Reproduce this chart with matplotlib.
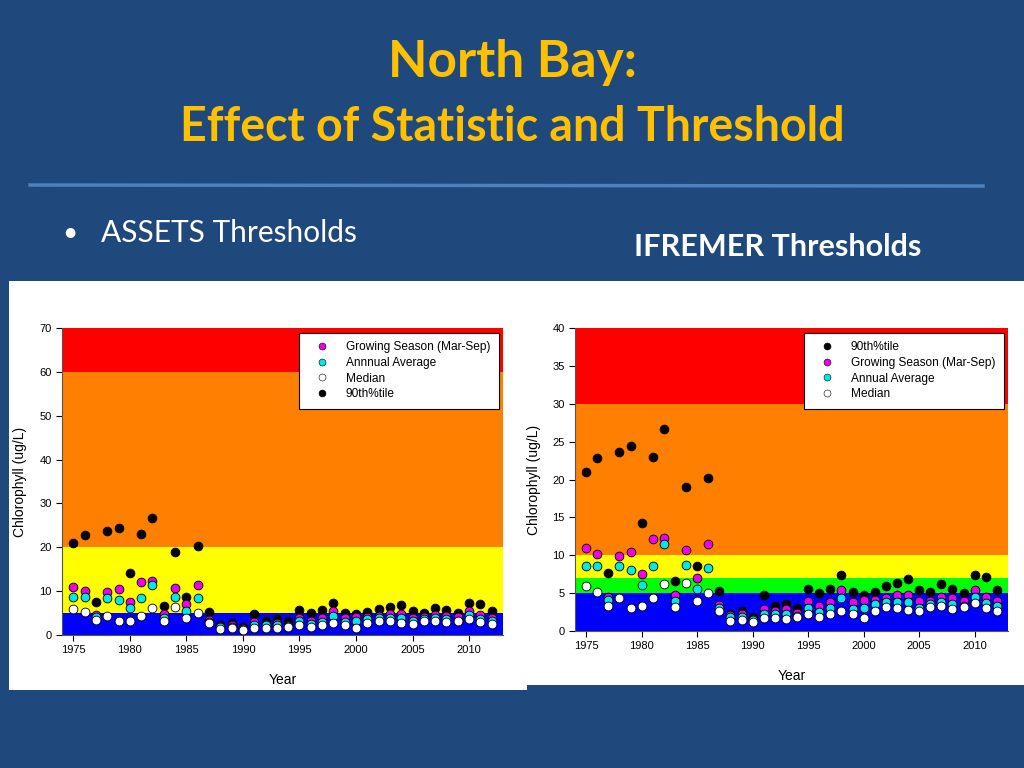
import matplotlib
matplotlib.use("Agg")
import matplotlib.pyplot as plt
from matplotlib.patches import Rectangle
from matplotlib.lines import Line2D

# data (same series shown in both panels)
years = list(range(1975, 2013))
p90 = [21.0, 22.9, 7.6, 23.6, 24.4, 14.2, 23.0, 26.7, 6.6, 19.0, 8.6, 20.2, 5.3,
       2.2, 2.7, 1.9, 4.7, 3.3, 3.6, 3.1, 5.6, 5.0, 5.6, 7.4, 5.1, 4.75, 5.2,
       6.0, 6.3, 6.8, 5.4, 5.1, 6.2, 5.6, 5.0, 7.4, 7.1, 5.45]
grow = [10.9, 10.1, 4.45, 9.9, 10.4, 7.5, 12.1, 12.3, 4.8, 10.7, 7.0, 11.5, 3.4,
        2.1, 2.2, 1.6, 2.9, 2.6, 2.85, 2.35, 3.9, 3.3, 3.8, 5.45, 3.8, 4.05, 4.05,
        4.3, 4.7, 4.7, 3.96, 4.0, 4.5, 4.3, 4.0, 5.4, 4.5, 3.9]
annual = [8.6, 8.6, 4.1, 8.55, 8.0, 6.1, 8.55, 11.5, 3.9, 8.75, 5.55, 8.35, 3.0,
          1.8, 1.9, 1.4, 2.3, 2.2, 2.2, 1.95, 3.1, 2.55, 3.0, 4.35, 2.95, 3.1, 3.55,
          3.8, 3.8, 3.8, 3.1, 3.6, 3.8, 3.6, 3.3, 4.45, 3.75, 3.3]
median = [6.0, 5.2, 3.35, 4.4, 3.1, 3.3, 4.4, 6.15, 3.2, 6.4, 3.9, 5.05, 2.7,
          1.3, 1.5, 1.15, 1.7, 1.7, 1.65, 1.8, 2.3, 1.8, 2.3, 2.7, 2.2, 1.7, 2.7,
          3.2, 3.1, 2.8, 2.6, 3.2, 3.3, 2.9, 3.2, 3.7, 3.0, 2.6]

# threshold bands (lower, upper, colour)
assets_bands = [(0, 5, "#0000FF"), (5, 20, "#FFFF00"), (20, 60, "#FF8000"), (60, 70, "#FF0000")]
ifremer_bands = [(0, 5, "#0000FF"), (5, 7, "#00FF00"), (7, 10, "#FFFF00"),
                 (10, 30, "#FF8000"), (30, 40, "#FF0000")]

BG = "#1F497D"
MAG = "#EE00EE"
CYAN = "#00E8E8"
W, H = 1024, 768


def fig_rect(x, y, w, h):
    # pixel box (top-left origin) -> figure fraction
    return [x / W, 1 - (y + h) / H, w / W, h / H]


fig = plt.figure(figsize=(10.24, 7.68), dpi=100, facecolor=BG)
plt.rcParams["font.family"] = ["Liberation Sans", "DejaVu Sans"]

# titles
fig.text(0.5, 1 - 63 / H, "North Bay:", ha="center", va="center", color="#FFC000",
         fontsize=37, fontweight="bold", family="Lato")
fig.text(0.5, 1 - 127 / H, "Effect of Statistic and Threshold", ha="center", va="center",
         color="#FFC000", fontsize=33.5, fontweight="bold", family="Lato")
fig.add_artist(Line2D([30 / W, 983 / W], [1 - 185 / H, 1 - 186 / H], color="#4F81BD", lw=2.5))
fig.text(62 / W, 1 - 233 / H, "\u2022", ha="left", va="center", color="white", fontsize=19, family="Lato")
fig.text(101 / W, 1 - 233 / H, "ASSETS Thresholds", ha="left", va="center", color="white",
         fontsize=21.5, family="Lato")
fig.text(778 / W, 1 - 247 / H, "IFREMER Thresholds", ha="center", va="center", color="white",
         fontsize=22, fontweight="bold", family="Lato")

# white panels behind the charts
fig.add_artist(Rectangle((9 / W, 1 - 690 / H), 518 / W, 409 / H, transform=fig.transFigure,
                         facecolor="white", edgecolor="none", zorder=0))
fig.add_artist(Rectangle((524 / W, 1 - 685 / H), 500 / W, 404 / H, transform=fig.transFigure,
                         facecolor="white", edgecolor="none", zorder=0))


def draw_panel(ax, bands, ymax, ystep, order, labels, ylpad):
    for lo, hi, c in bands:
        ax.axhspan(lo, hi, color=c, lw=0, zorder=0)
    series = {"p90": (p90, "black"), "grow": (grow, MAG), "annual": (annual, CYAN),
              "median": (median, "white")}
    for key in ["p90", "grow", "annual", "median"]:
        vals, c = series[key]
        ax.scatter(years, vals, s=40, c=c, edgecolors="black", linewidths=0.6, zorder=3)
    ax.set_xlim(1974, 2013)
    ax.set_ylim(0, ymax)
    ax.set_xticks(range(1975, 2011, 5))
    ax.set_yticks(range(0, ymax + 1, ystep))
    ax.tick_params(labelsize=8, length=4, width=0.8, direction="out")
    for s in ["top", "right"]:
        ax.spines[s].set_visible(False)
    for s in ["left", "bottom"]:
        ax.spines[s].set_color("#555555")
    ax.set_xlabel("Year", fontsize=10, labelpad=13)
    ax.set_ylabel("Chlorophyll (ug/L)", fontsize=10, labelpad=ylpad)
    handles = []
    for key, lab in zip(order, labels):
        c = series[key][1]
        handles.append(Line2D([], [], ls="none", marker="o", markersize=5, markerfacecolor=c,
                              markeredgecolor="black", markeredgewidth=0.4, label=lab))
    leg = ax.legend(handles=handles, loc="upper right", bbox_to_anchor=(0.99, 0.985),
                    fontsize=8.6, frameon=True, fancybox=False, framealpha=1, edgecolor="black",
                    borderpad=0.7, labelspacing=0.32, handletextpad=0.8, handlelength=2.4,
                    borderaxespad=0)
    leg.get_frame().set_linewidth(0.8)
    leg.set_zorder(5)


ax1 = fig.add_axes(fig_rect(62, 328, 441, 307))
draw_panel(ax1, assets_bands, 70, 10, ["grow", "annual", "median", "p90"],
           ["Growing Season (Mar-Sep)", "Annnual Average", "Median", "90th%tile"], 9)

ax2 = fig.add_axes(fig_rect(575, 328, 433, 303))
draw_panel(ax2, ifremer_bands, 40, 5, ["p90", "grow", "annual", "median"],
           ["90th%tile", "Growing Season (Mar-Sep)", "Annual Average", "Median"], 8)

fig.savefig("out.png", dpi=100, facecolor=BG)
